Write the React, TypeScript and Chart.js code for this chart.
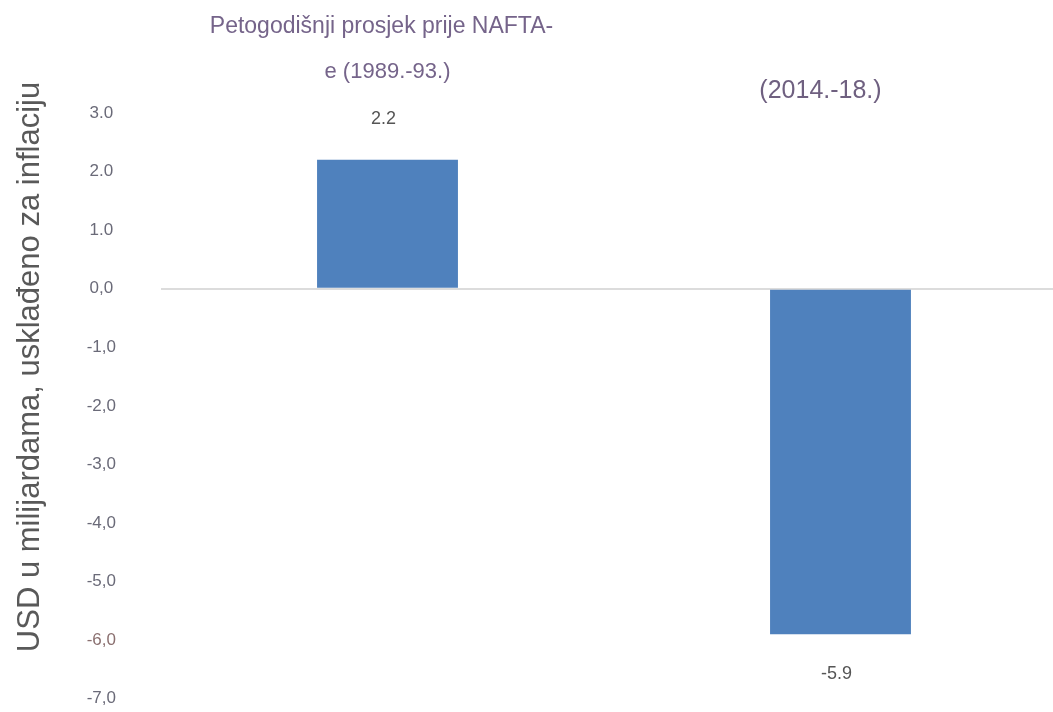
import React, { useEffect, useRef } from "react";
import { Chart, registerables } from "chart.js";

Chart.register(...registerables);

const categories = ["Petogodišnji prosjek prije NAFTA-e (1989.-93.)", "(2014.-18.)"];
const categoryLabelLines = [["Petogodišnji prosjek prije NAFTA-", "e (1989.-93.)"], ["(2014.-18.)"]];
const values = [2.2, -5.9];
const valueLabels = ["2.2", "-5.9"];
const tickValues = [3, 2, 1, 0, -1, -2, -3, -4, -5, -6, -7];
const tickLabels = ["3.0", "2.0", "1.0", "0,0", "-1,0", "-2,0", "-3,0", "-4,0", "-5,0", "-6,0", "-7,0"];
const yTitle = "USD u milijardama, usklađeno za inflaciju";

const FONT = "'Liberation Sans', Arial, sans-serif";

const overlayPlugin = {
  id: "overlay",
  afterDraw(chart: any) {
    const ctx = chart.ctx;
    const x = chart.scales.x;
    const y = chart.scales.y;
    ctx.save();
    ctx.textAlign = "center";
    ctx.textBaseline = "middle";
    categoryLabelLines.forEach((lines, i) => {
      const cx = x.getPixelForValue(i);
      if (lines.length > 1) {
        ctx.fillStyle = "#75648a";
        ctx.font = `23px ${FONT}`;
        ctx.fillText(lines[0], cx - 6, 27);
        ctx.font = `22px ${FONT}`;
        ctx.fillText(lines[1], cx, 72);
      } else {
        ctx.font = `25px ${FONT}`;
        ctx.fillStyle = "#6f6080";
        ctx.fillText(lines[0], cx - 20, 91);
      }
    });
    ctx.font = `18px ${FONT}`;
    ctx.fillStyle = "#555555";
    values.forEach((v, i) => {
      const cx = x.getPixelForValue(i);
      const py = y.getPixelForValue(v);
      const ly = v >= 0 ? py - 41 : py + 40;
      ctx.fillText(valueLabels[i], cx - 4, ly);
    });
    ctx.translate(30, 367);
    ctx.rotate(-Math.PI / 2);
    ctx.font = `31px ${FONT}`;
    ctx.fillStyle = "#595959";
    ctx.fillText(yTitle, 0, 0);
    ctx.restore();
  },
};

export default function App() {
  const ref = useRef<HTMLCanvasElement>(null);
  useEffect(() => {
    if (!ref.current) return;
    const chart = new Chart(ref.current, {
      type: "bar",
      data: {
        labels: categories,
        datasets: [
          {
            data: values,
            backgroundColor: "#4f81bd",
            borderWidth: 0,
            barPercentage: 0.311,
            categoryPercentage: 1,
          },
        ],
      },
      options: {
        animation: false,
        responsive: false,
        maintainAspectRatio: false,
        layout: { padding: { top: 113, bottom: 15, left: 0, right: 0 } },
        plugins: { legend: { display: false }, tooltip: { enabled: false } },
        scales: {
          x: { display: false },
          y: {
            min: -7,
            max: 3,
            afterFit: (s: any) => {
              s.width = 161;
            },
            border: { display: false },
            grid: {
              drawTicks: false,
              color: (c: any) => (c.tick && c.tick.value === 0 ? "#dcdcdc" : "rgba(0,0,0,0)"),
              lineWidth: 2,
            },
            ticks: {
              stepSize: 1,
              crossAlign: "center",
              padding: 45,
              font: { family: FONT, size: 17 },
              color: (c: any) => (c.tick && c.tick.value === -6 ? "#8a6f6f" : "#6a6a78"),
              callback: (v: any) => {
                const i = tickValues.indexOf(Number(v));
                return i >= 0 ? tickLabels[i] : "";
              },
            },
          },
        },
      },
      plugins: [overlayPlugin],
    });
    return () => chart.destroy();
  }, []);
  return (
    <div style={{ position: "fixed", left: 0, top: 0, width: 1053, height: 712, overflow: "hidden", background: "#fff" }}>
      <canvas ref={ref} width={1067} height={754} style={{ display: "block" }} />
    </div>
  );
}
